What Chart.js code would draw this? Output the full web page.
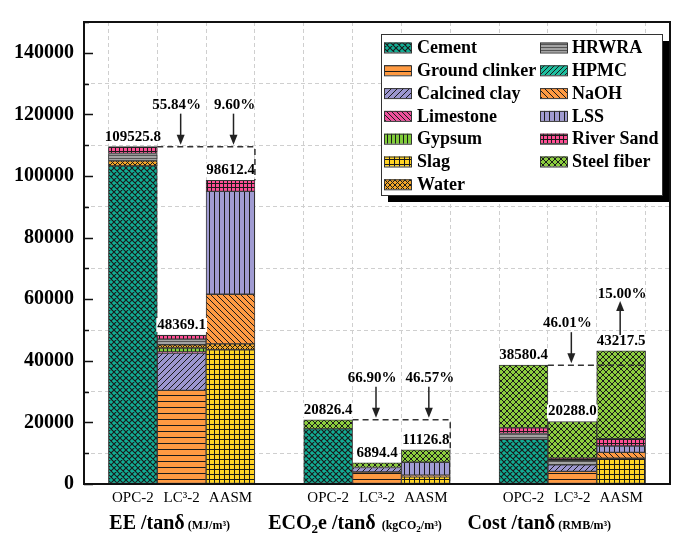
<!DOCTYPE html>
<html>
<head>
<meta charset="utf-8">
<script src="https://cdn.jsdelivr.net/npm/chart.js@4/dist/chart.umd.min.js"></script>
<style>
  html, body { margin: 0; padding: 0; background: #fff; }
  #wrap { width: 678px; height: 536px; position: relative; }
</style>
</head>
<body>
<div id="wrap"><canvas id="myChart"></canvas></div>
<script>
// x slots: empty slots separate the three groups (EE, ECO2e, Cost)
const xLabels = ['', 'OPC-2', 'LC³-2', 'AASM', '', 'OPC-2', 'LC³-2', 'AASM', '', 'OPC-2', 'LC³-2', 'AASM', ''];

// segment values (per slot)
const cement        = [null, 103300, null, null, null, 17900, null, null, null, 14500, null, null, null];
const groundClinker = [null, null, 30400, null, null, null, 3900, null, null, null, 4100, null, null];
const slag          = [null, null, null, 43600, null, null, null, 2300, null, null, null, 8350, null];
const calcinedClay  = [null, null, 12100, null, null, null, 1450, null, null, null, 2100, null, null];
const limestone     = [null, null, 400, null, null, null, null, null, null, null, null, null, null];
const gypsum        = [null, null, 1250, null, null, null, null, null, null, null, null, null, null];
const water         = [null, 1600, 1050, 1900, null, null, null, null, null, null, null, null, null];
const naoh          = [null, null, null, 16100, null, null, null, 560, null, null, null, 1900, null];
const lss           = [null, null, null, 33400, null, null, null, 4200, null, null, null, 2100, null];
const hrwra         = [null, 2400, 1850, null, null, null, null, null, null, 1900, 1370, null, null];
const hpmc          = [null, null, null, null, null, null, null, null, null, null, null, null, null];
const riverSand     = [null, 2225.8, 1319.1, 3612.4, null, null, null, null, null, 1800, 850, 2400, null];
const steelFiber    = [null, null, null, null, null, 2926.4, 1544.4, 4066.8, null, 20380.4, 11868, 28467.5, null];

const totals = [null, 109525.8, 48369.1, 98612.4, null, 20826.4, 6894.4, 11126.8, null, 38580.4, 20288.0, 43217.5, null];

// reduction labels: [LC3-2, AASM] for each group
const groupSlots = [[1, 2, 3], [5, 6, 7], [9, 10, 11]];
const pctLC   = ['55.84%', '66.90%', '46.01%'];
const pctAASM = ['9.60%', '46.57%', '15.00%'];

const legendCol1 = ['Cement', 'Ground clinker', 'Calcined clay', 'Limestone', 'Gypsum', 'Slag', 'Water'];
const legendCol2 = ['HRWRA', 'HPMC', 'NaOH', 'LSS', 'River Sand', 'Steel fiber'];

const SERIF = "'Liberation Serif', 'Times New Roman', serif";

function makePattern(bg, kind, s, lw, lineColor) {
    const c = document.createElement('canvas');
    c.width = s; c.height = s;
    const g = c.getContext('2d');
    g.fillStyle = bg;
    g.fillRect(0, 0, s, s);
    g.strokeStyle = lineColor || '#1a1a1a';
    g.lineWidth = lw || 1;
    g.beginPath();
    if (kind === 'h' || kind === 'grid') { g.moveTo(0, s - 0.5); g.lineTo(s, s - 0.5); }
    if (kind === 'v' || kind === 'grid') { g.moveTo(s - 0.5, 0); g.lineTo(s - 0.5, s); }
    if (kind === 'fd' || kind === 'x') {
        g.moveTo(0, s); g.lineTo(s, 0);
        g.moveTo(-1, 1); g.lineTo(1, -1);
        g.moveTo(s - 1, s + 1); g.lineTo(s + 1, s - 1);
    }
    if (kind === 'bd' || kind === 'x') {
        g.moveTo(0, 0); g.lineTo(s, s);
        g.moveTo(s - 1, -1); g.lineTo(s + 1, 1);
        g.moveTo(-1, s - 1); g.lineTo(1, s + 1);
    }
    g.stroke();
    return g.createPattern(c, 'repeat');
}

// stacking order bottom -> top
const materials = [
    { label: 'Cement',         data: cement,        fill: makePattern('#12ad94', 'x', 6, 1.1) },
    { label: 'Ground clinker', data: groundClinker, fill: makePattern('#ff9a42', 'h', 6, 1) },
    { label: 'Slag',           data: slag,          fill: makePattern('#ffd325', 'grid', 5, 1) },
    { label: 'Calcined clay',  data: calcinedClay,  fill: makePattern('#9c96cf', 'fd', 6, 1) },
    { label: 'Limestone',      data: limestone,     fill: makePattern('#ee4f9c', 'bd', 5, 1) },
    { label: 'Gypsum',         data: gypsum,        fill: makePattern('#80cc3a', 'v', 4, 1) },
    { label: 'Water',          data: water,         fill: makePattern('#f3a628', 'x', 5, 1) },
    { label: 'NaOH',           data: naoh,          fill: makePattern('#ff9a42', 'bd', 6, 1) },
    { label: 'LSS',            data: lss,           fill: makePattern('#a09bd2', 'v', 5, 1) },
    { label: 'HRWRA',          data: hrwra,         fill: makePattern('#a3a3a3', 'h', 3, 1, '#555') },
    { label: 'HPMC',           data: hpmc,          fill: makePattern('#1dbf9f', 'fd', 5, 1) },
    { label: 'River Sand',     data: riverSand,     fill: makePattern('#ff4f95', 'grid', 4, 1) },
    { label: 'Steel fiber',    data: steelFiber,    fill: makePattern('#8ccd3e', 'x', 6, 1) }
];
const fillOf = {};
materials.forEach(m => { fillOf[m.label] = m.fill; });

function drawArrow(ctx, x, y0, y1) {
    // shaft from y0 to tip at y1
    const dir = y1 > y0 ? 1 : -1;
    ctx.strokeStyle = '#222';
    ctx.fillStyle = '#222';
    ctx.lineWidth = 1.5;
    ctx.beginPath();
    ctx.moveTo(x, y0);
    ctx.lineTo(x, y1 - dir * 8);
    ctx.stroke();
    ctx.beginPath();
    ctx.moveTo(x, y1);
    ctx.lineTo(x - 4, y1 - dir * 10);
    ctx.lineTo(x + 4, y1 - dir * 10);
    ctx.closePath();
    ctx.fill();
}

function drawRuns(ctx, runs, cx, baseY) {
    let total = 0;
    runs.forEach(r => {
        ctx.font = 'bold ' + r.s + 'px ' + SERIF;
        r.w = ctx.measureText(r.t).width;
        total += r.w;
    });
    let xx = cx - total / 2;
    ctx.textAlign = 'left';
    ctx.textBaseline = 'alphabetic';
    ctx.fillStyle = '#000';
    runs.forEach(r => {
        ctx.font = 'bold ' + r.s + 'px ' + SERIF;
        ctx.fillText(r.t, xx, baseY + (r.dy || 0));
        xx += r.w;
    });
}

const decorations = {
    id: 'decorations',
    afterDatasetsDraw(chart) {
        const { ctx, scales: { x, y } } = chart;
        ctx.save();
        // total labels
        ctx.font = 'bold 15px ' + SERIF;
        ctx.textAlign = 'center';
        ctx.textBaseline = 'middle';
        totals.forEach((t, i) => {
            if (t === null) return;
            const txt = t.toFixed(1);
            const cx = x.getPixelForValue(i);
            const cy = y.getPixelForValue(t) - 10;
            const w = ctx.measureText(txt).width;
            ctx.fillStyle = '#fff';
            ctx.fillRect(cx - w / 2 - 1, cy - 7, w + 2, 14);
            ctx.fillStyle = '#000';
            ctx.fillText(txt, cx, cy);
        });

        // dashed reference lines + arrows
        const half = (x.getPixelForValue(1) - x.getPixelForValue(0)) / 2;
        groupSlots.forEach((g, k) => {
            const [o, l, a] = g;
            const refY = y.getPixelForValue(totals[o]);
            const x0 = x.getPixelForValue(o) + half;
            const x1 = x.getPixelForValue(a) + half;
            const aTop = y.getPixelForValue(totals[a]);
            ctx.strokeStyle = '#333';
            ctx.lineWidth = 1.5;
            ctx.setLineDash([6, 4]);
            ctx.beginPath();
            ctx.moveTo(x0, refY);
            ctx.lineTo(x1, refY);
            if (aTop > refY) ctx.lineTo(x1, aTop);
            ctx.stroke();
            ctx.setLineDash([]);

            ctx.font = 'bold 15px ' + SERIF;
            ctx.textAlign = 'center';
            ctx.textBaseline = 'middle';
            ctx.fillStyle = '#000';
            // LC3-2 always lower
            const lx = x.getPixelForValue(l) - 1;
            ctx.fillText(pctLC[k], lx - 4, refY - 42);
            drawArrow(ctx, lx, refY - 33, refY - 2);
            const ax = x.getPixelForValue(a) + (aTop > refY ? 3 : -1);
            if (aTop > refY) {
                ctx.fillStyle = '#000';
                ctx.fillText(pctAASM[k], ax + 1, refY - 42);
                drawArrow(ctx, ax, refY - 33, refY - 2);
            } else {
                ctx.fillStyle = '#000';
                ctx.fillText(pctAASM[k], ax + 2, aTop - 57);
                drawArrow(ctx, ax, aTop - 16, aTop - 50);
            }
        });
        ctx.restore();
    },
    afterDraw(chart) {
        const { ctx, chartArea: ca, scales: { x, y } } = chart;
        ctx.save();
        // frame
        ctx.strokeStyle = '#111';
        ctx.lineWidth = 2;
        ctx.strokeRect(ca.left, ca.top, ca.right - ca.left, ca.bottom - ca.top);
        // inward ticks on left axis
        ctx.lineWidth = 1.5;
        ctx.beginPath();
        for (let v = 0; v <= 150000; v += 10000) {
            const py = Math.round(y.getPixelForValue(v)) + 0.5;
            const len = v % 20000 === 0 ? 9 : 5;
            ctx.moveTo(ca.left, py);
            ctx.lineTo(ca.left + len, py);
        }
        ctx.stroke();

        // legend box with shadow
        const lx = ca.left + 297, ly = ca.top + 12, lw = 281, lh = 161;
        ctx.fillStyle = '#000';
        ctx.fillRect(lx + 7, ly + 7, lw, lh);
        ctx.fillStyle = '#fff';
        ctx.fillRect(lx, ly, lw, lh);
        ctx.strokeStyle = '#333';
        ctx.lineWidth = 1;
        ctx.strokeRect(lx + 0.5, ly + 0.5, lw, lh);
        ctx.font = 'bold 18px ' + SERIF;
        ctx.textAlign = 'left';
        ctx.textBaseline = 'middle';
        const rowY = i => ly + 13.5 + i * 22.8;
        const item = (name, sx, tx, i) => {
            const cy = rowY(i);
            ctx.fillStyle = fillOf[name];
            ctx.fillRect(sx, cy - 5, 27, 10);
            ctx.strokeStyle = '#333';
            ctx.strokeRect(sx + 0.5, cy - 5 + 0.5, 27, 10);
            ctx.fillStyle = '#000';
            ctx.fillText(name, tx, cy + 1);
        };
        legendCol1.forEach((n, i) => item(n, lx + 3, lx + 36, i));
        legendCol2.forEach((n, i) => item(n, lx + 159, lx + 191, i));

        // group titles
        const base = 529;
        drawRuns(ctx, [{ t: 'EE /tanδ', s: 20 }, { t: ' (MJ/m³)', s: 12 }], x.getPixelForValue(2) - 12, base);
        drawRuns(ctx, [
            { t: 'ECO', s: 20 }, { t: '2', s: 13, dy: 4 }, { t: 'e /tanδ', s: 20 },
            { t: '  (kgCO', s: 12 }, { t: '2', s: 9, dy: 3 }, { t: '/m³)', s: 12 }
        ], x.getPixelForValue(6) - 22, base);
        drawRuns(ctx, [{ t: 'Cost /tanδ', s: 20 }, { t: ' (RMB/m³)', s: 12 }], x.getPixelForValue(10) - 33, base);
        ctx.restore();
    }
};

document.addEventListener('DOMContentLoaded', () => {
    const GRAPH = document.getElementById('myChart').getContext('2d');
    window.myGraph = new Chart(GRAPH, {
        type: 'bar',
        data: {
            labels: xLabels,
            datasets: materials.map(m => ({
                label: m.label,
                data: m.data,
                backgroundColor: m.fill,
                borderColor: '#3a3a3a',
                borderWidth: 1,
                borderSkipped: false,
                barPercentage: 1,
                categoryPercentage: 1
            }))
        },
        options: {
            responsive: true,
            maintainAspectRatio: false,
            animation: false,
            layout: { padding: { top: 10, right: 8, left: 0, bottom: 0 } },
            scales: {
                x: {
                    stacked: true,
                    offset: false,
                    afterFit: s => { s.height = 52; },
                    grid: { offset: true, color: '#cfcfcf', lineWidth: 1, drawTicks: false },
                    border: { display: false, dash: [4, 3] },
                    ticks: {
                        autoSkip: false,
                        maxRotation: 0,
                        padding: 5,
                        color: '#000',
                        font: { family: SERIF, size: 15 }
                    }
                },
                y: {
                    stacked: true,
                    min: 0,
                    max: 150000,
                    afterFit: s => { s.width = 84; },
                    grid: {
                        drawTicks: false,
                        color: c => (c.tick && c.tick.value % 20000 === 10000) ? '#cfcfcf' : 'rgba(0,0,0,0)'
                    },
                    border: { display: false, dash: [4, 3] },
                    ticks: {
                        stepSize: 10000,
                        padding: 10,
                        color: '#000',
                        font: { family: SERIF, size: 20, weight: 'bold' },
                        callback: v => (v % 20000 === 0 ? String(v) : '')
                    }
                }
            },
            plugins: {
                legend: { display: false },
                tooltip: { enabled: false }
            }
        },
        plugins: [decorations]
    });
});
</script>
</body>
</html>
